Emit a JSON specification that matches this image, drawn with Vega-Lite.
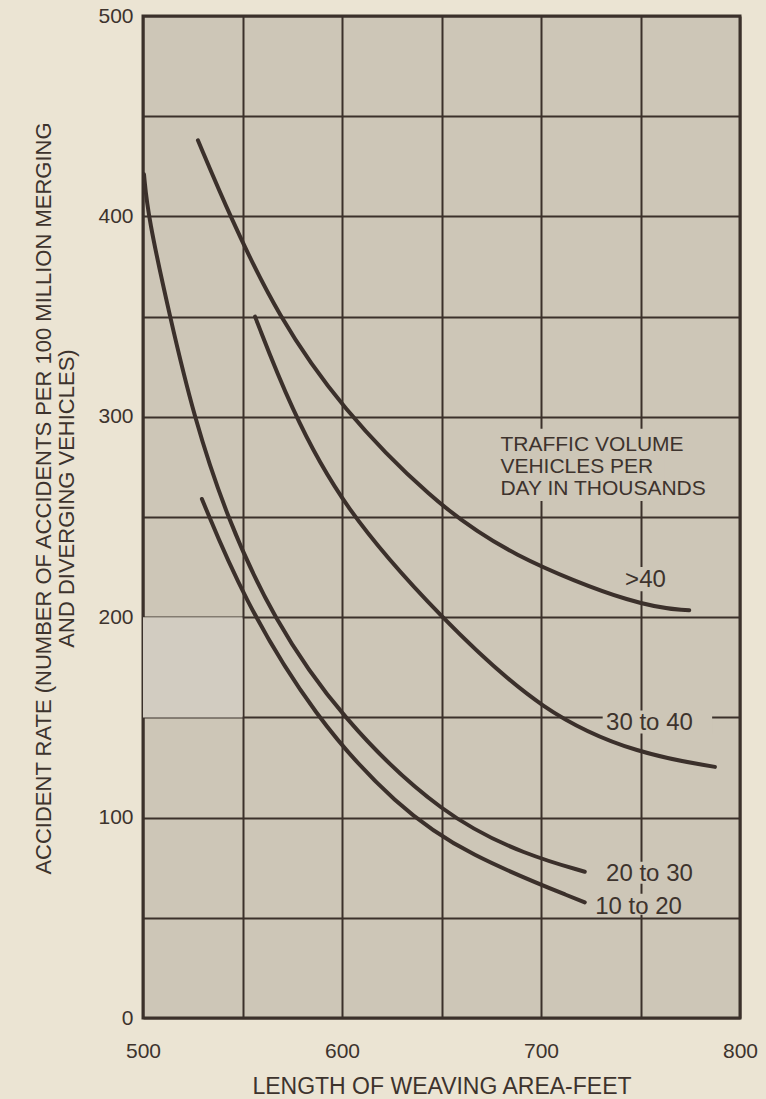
{
  "$schema": "https://vega.github.io/schema/vega-lite/v6.json",
  "width": 597,
  "height": 1002,
  "autosize": {"type": "none"},
  "padding": {"left": 143, "top": 16, "right": 26, "bottom": 81},
  "background": "#ebe4d3",
  "config": {
    "view": {"fill": "#cdc6b7", "stroke": "#3b302b", "strokeWidth": 3},
    "axis": {
      "grid": true,
      "gridColor": "#3b302b",
      "gridWidth": 2,
      "gridOpacity": 1,
      "domain": false,
      "ticks": false,
      "tickSize": 0,
      "labelFont": "Liberation Sans",
      "labelFontSize": 21,
      "labelColor": "#3d332d",
      "labelFlush": false,
      "labelOverlap": false,
      "titleFont": "Liberation Sans",
      "titleFontWeight": "normal",
      "titleColor": "#3d332d"
    }
  },
  "datasets": {
    "curves": [
      {"s": "20 to 30", "x": 500.5, "y": 421},
      {"s": "20 to 30", "x": 502.5, "y": 400},
      {"s": "20 to 30", "x": 513.5, "y": 350},
      {"s": "20 to 30", "x": 525.5, "y": 300},
      {"s": "20 to 30", "x": 542, "y": 250},
      {"s": "20 to 30", "x": 565, "y": 200},
      {"s": "20 to 30", "x": 599, "y": 150},
      {"s": "20 to 30", "x": 651.5, "y": 100},
      {"s": "20 to 30", "x": 693.6, "y": 81},
      {"s": "20 to 30", "x": 722, "y": 73},
      {"s": "10 to 20", "x": 529.6, "y": 259},
      {"s": "10 to 20", "x": 550, "y": 210},
      {"s": "10 to 20", "x": 586.2, "y": 150},
      {"s": "10 to 20", "x": 627.6, "y": 105.6},
      {"s": "10 to 20", "x": 662.8, "y": 81.3},
      {"s": "10 to 20", "x": 722, "y": 57.7},
      {"s": "30 to 40", "x": 556.3, "y": 350},
      {"s": "30 to 40", "x": 573.9, "y": 305},
      {"s": "30 to 40", "x": 600, "y": 255},
      {"s": "30 to 40", "x": 649, "y": 200},
      {"s": "30 to 40", "x": 702, "y": 151},
      {"s": "30 to 40", "x": 750, "y": 131.5},
      {"s": "30 to 40", "x": 787.4, "y": 125.3},
      {"s": ">40", "x": 527.6, "y": 438},
      {"s": ">40", "x": 543.7, "y": 400},
      {"s": ">40", "x": 567.8, "y": 350},
      {"s": ">40", "x": 600, "y": 304},
      {"s": ">40", "x": 644.4, "y": 259},
      {"s": ">40", "x": 683.4, "y": 231},
      {"s": ">40", "x": 750, "y": 205},
      {"s": ">40", "x": 774.5, "y": 203.5}
    ],
    "gaps": [
      {"x": 677, "x2": 762, "y": 258, "y2": 294},
      {"x": 742, "x2": 763, "y": 213, "y2": 225},
      {"x": 731, "x2": 786, "y": 142, "y2": 153.5},
      {"x": 733, "x2": 778, "y": 67, "y2": 78},
      {"x": 729, "x2": 772, "y": 51.5, "y2": 62}
    ],
    "stipple": [
      {"x": 500, "x2": 550, "y": 150, "y2": 200}
    ],
    "labels": [
      {"x": 752.5, "y": 218.6, "t": ">40"},
      {"x": 754.5, "y": 147, "t": "30 to 40"},
      {"x": 754.5, "y": 72, "t": "20 to 30"},
      {"x": 749, "y": 55.3, "t": "10 to 20"}
    ],
    "legend": [
      {"x": 679.6, "y": 283, "t": ["TRAFFIC VOLUME", "VEHICLES PER", "DAY IN THOUSANDS"]}
    ]
  },
  "encoding": {
    "x": {
      "field": "x",
      "type": "quantitative",
      "scale": {"domain": [500, 800], "nice": false, "zero": false},
      "axis": {
        "values": [500, 550, 600, 650, 700, 750, 800],
        "labelExpr": "datum.value % 100 === 0 ? datum.label : ''",
        "labelPadding": 22,
        "labelBaseline": "top",
        "title": "LENGTH OF WEAVING AREA-FEET",
        "titleFontSize": 23,
        "titleBaseline": "alphabetic",
        "titleY": 75
      }
    },
    "y": {
      "field": "y",
      "type": "quantitative",
      "scale": {"domain": [0, 500], "nice": false},
      "axis": {
        "values": [0, 50, 100, 150, 200, 250, 300, 350, 400, 450, 500],
        "labelExpr": "datum.value % 100 === 0 ? datum.label : ''",
        "labelPadding": 10,
        "title": ["ACCIDENT RATE (NUMBER OF ACCIDENTS PER 100 MILLION MERGING", "AND DIVERGING VEHICLES)"],
        "titleFontSize": 22,
        "titleLineHeight": 23,
        "titleBaseline": "top",
        "titleX": -110,
        "titleY": 482
      }
    }
  },
  "layer": [
    {
      "data": {"name": "stipple"},
      "mark": {"type": "rect", "fill": "#d2ccc1"},
      "encoding": {"x2": {"field": "x2"}, "y2": {"field": "y2"}}
    },
    {
      "data": {"name": "gaps"},
      "mark": {"type": "rect", "fill": "#cdc6b7"},
      "encoding": {"x2": {"field": "x2"}, "y2": {"field": "y2"}}
    },
    {
      "data": {"name": "curves"},
      "mark": {"type": "line", "stroke": "#3b302b", "strokeWidth": 4, "interpolate": "basis", "strokeCap": "round"},
      "encoding": {"detail": {"field": "s"}}
    },
    {
      "data": {"name": "labels"},
      "mark": {"type": "text", "font": "Liberation Sans", "fontSize": 24, "align": "center", "baseline": "middle", "color": "#3d332d"},
      "encoding": {"text": {"field": "t"}}
    },
    {
      "data": {"name": "legend"},
      "mark": {"type": "text", "font": "Liberation Sans", "fontSize": 21, "lineHeight": 22, "align": "left", "baseline": "alphabetic", "color": "#3d332d"},
      "encoding": {"text": {"field": "t"}}
    }
  ]
}
